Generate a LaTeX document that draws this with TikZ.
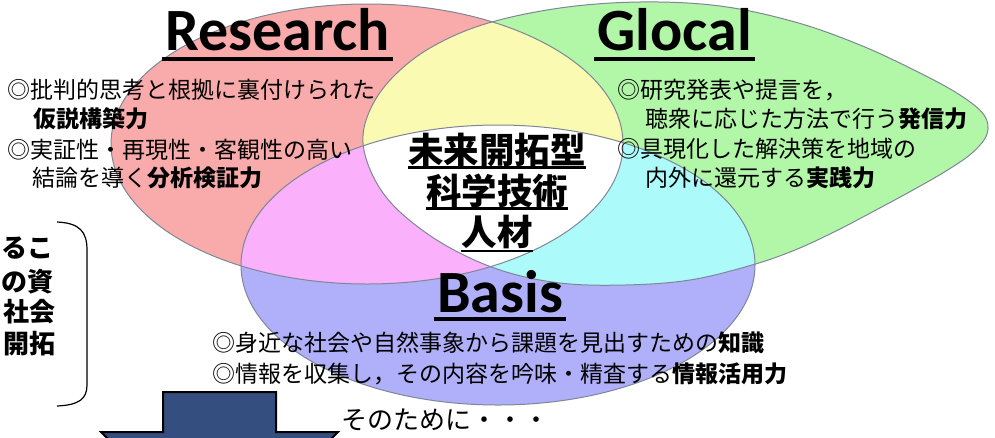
\documentclass[tikz,border=0pt]{standalone}
\usepackage{fontspec}
\newfontfamily\jp{Noto Sans CJK JP}
\newfontfamily\latinhd{Carlito}
\usetikzlibrary{calc}
\definecolor{cR}{RGB}{249,170,170}
\definecolor{cG}{RGB}{178,246,168}
\definecolor{cB}{RGB}{176,176,250}
\definecolor{cY}{RGB}{250,250,178}
\definecolor{cM}{RGB}{250,176,250}
\definecolor{cC}{RGB}{172,250,250}
\definecolor{edgec}{RGB}{125,135,150}
\definecolor{navy}{RGB}{52,78,128}
\def\redpath{(367,144) ellipse [x radius=256pt, y radius=140pt]}
\def\bluepath{(498,265) ellipse [x radius=257pt, y radius=140pt]}
\def\greenpath{plot[smooth cycle, tension=0.6] coordinates {(363,143) (370,110) (392,78) (430,48) (485,24) (560,8) (640,2) (720,6) (795,22) (860,45) (918,72) (960,95) (984,115) (987,134) (972,153) (946,171) (913,190) (876,210) (836,231) (795,250) (752,265) (690,280) (625,285) (560,283) (500,270) (445,245) (400,212) (375,180)}}
\tikzset{
  jt/.style={font=\jp\fontsize{23}{23}\selectfont, inner sep=0pt, anchor=base west},
  ct/.style={font=\jp\bfseries\fontsize{35.5}{36}\selectfont, inner sep=0pt, anchor=base},
  hd/.style={font=\latinhd\bfseries\fontsize{60}{60}\selectfont, inner sep=0pt, anchor=base},
  lt/.style={font=\jp\bfseries\fontsize{26}{26}\selectfont, inner sep=0pt, anchor=base east},
  ulh/.style={line width=3.5pt},
  ulc/.style={line width=2.5pt},
  edge/.style={draw=edgec, line width=1pt},
}
\begin{document}
\begin{tikzpicture}[x=1pt,y=-1pt]
\useasboundingbox (0,0) rectangle (995,437);
\clip (0,0) rectangle (995,437);
% base fills
\fill[cR] \redpath;
\fill[cG] \greenpath;
\fill[cB] \bluepath;
% overlaps
\begin{scope}\clip \redpath; \fill[cY] \greenpath; \end{scope}
\begin{scope}\clip \redpath; \fill[cM] \bluepath; \end{scope}
\begin{scope}\clip \greenpath; \fill[cC] \bluepath; \end{scope}
\begin{scope}\clip \redpath; \clip \greenpath; \fill[white] \bluepath; \end{scope}
% outlines
\draw[edge] \redpath;
\draw[edge] \greenpath;
\draw[edge] \bluepath;
% headings
\node[hd] (research) at (277.5,50) {Research};
\node[hd] (glocal) at (674.5,50) {Glocal};
\node[hd] (basis) at (500,312) {Basis};
\draw[ulh] ($(research.base west)+(-3,9)$) -- ($(research.base east)+(3,9)$);
\draw[ulh] ($(glocal.base west)+(-3,9)$) -- ($(glocal.base east)+(3,9)$);
\draw[ulh] ($(basis.base west)+(-3,7)$) -- ($(basis.base east)+(3,7)$);
% center
\node[ct] (c1) at (497,163) {未来開拓型};
\node[ct] (c2) at (497,204) {科学技術};
\node[ct] (c3) at (497,245) {人材};
\draw[ulc] ($(c1.base west)+(0,4.5)$) -- ($(c1.base east)+(0,4.5)$);
\draw[ulc] ($(c2.base west)+(0,4.5)$) -- ($(c2.base east)+(0,4.5)$);
\draw[ulc] ($(c3.base west)+(0,6)$) -- ($(c3.base east)+(0,6)$);
% research texts
\node[jt] (l1) at (7,98) {◎批判的思考と根拠に裏付けられた};
\node[jt] (l2) at (33,127) {\textbf{仮説構築力}};
\node[jt] (l3) at (7,158) {◎実証性・再現性・客観性の高い};
\node[jt] (l4) at (32,186) {結論を導く\textbf{分析検証力}};
% glocal texts
\node[jt] (r1) at (617,98) {◎研究発表や提言を，};
\node[jt] (r2) at (645,127) {聴衆に応じた方法で行う\textbf{発信力}};
\node[jt] (r3) at (617,157) {◎具現化した解決策を地域の};
\node[jt] (r4) at (645,186) {内外に還元する\textbf{実践力}};
% basis texts
\node[jt] (b1) at (212,351) {◎身近な社会や自然事象から課題を見出すための\textbf{知識}};
\node[jt] (b2) at (212,382) {◎情報を収集し，その内容を吟味・精査する\textbf{情報活用力}};
\node[jt, font=\jp\fontsize{26}{26}\selectfont] (tame) at (341,429) {そのために・・・};
% left partial text
\node[lt] (p1) at (54,257) {るこ};
\node[lt] (p2) at (54,291) {の資};
\node[lt] (p3) at (56,321) {社会};
\node[lt] (p4) at (56,353) {開拓};
\draw[line width=1.2pt] (57,222) .. controls (80,223) and (87,232) .. (87,250) -- (87,385) .. controls (87,399) and (79,405) .. (57,406);
% arrow
\draw[fill=navy, draw=black, line width=2pt, line join=miter] (163,392) -- (276,392) -- (276,432) -- (338,432) -- (219.5,550) -- (101,432) -- (163,432) -- cycle;
\end{tikzpicture}
\end{document}
